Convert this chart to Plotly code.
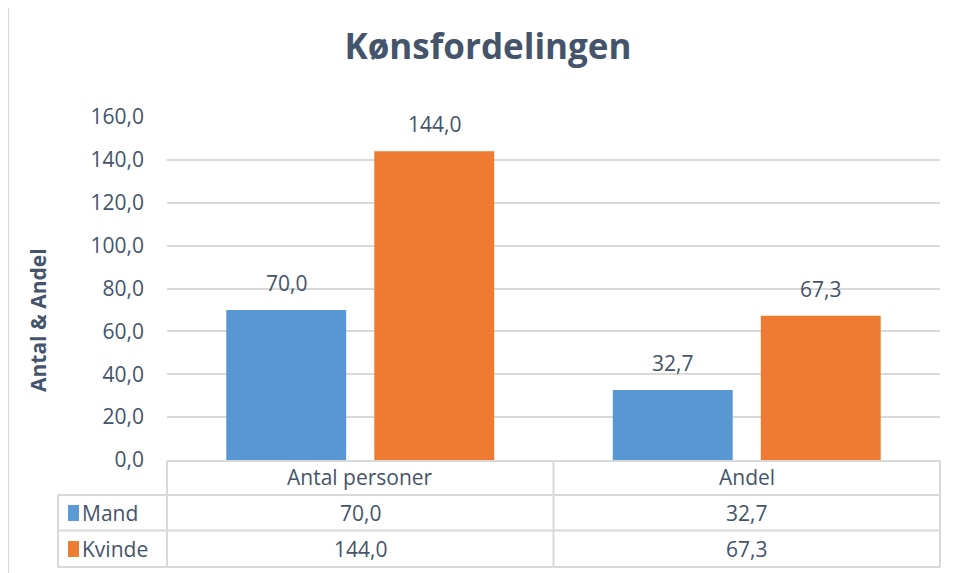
import plotly.graph_objects as go

# data
categories = ["Antal personer", "Andel"]
series_names = ["Mand", "Kvinde"]
mand = [70.0, 32.7]
kvinde = [144.0, 67.3]
y_ticks = [0, 20, 40, 60, 80, 100, 120, 140, 160]

txt = "#44546a"
grid = "#d9d9d9"
font = "Open Sans"
bar_colors = ["#5897d3", "#ef7a31"]
key_colors = ["#5b9bd5", "#ed7d31"]

# the page puts the figure 8px in from the top-left corner
OFF = 8
W, H = 954 - OFF, 573 - OFF
L, R, T, B = 167, 940, 117, 460   # plot area, in screen pixels
bargap = 0.234


def px(x):
    return (x - L) / (R - L)


def py(y):
    return (B - y) / (B - T)


fig = go.Figure()
values = [mand, kvinde]
for name, vals, col in zip(series_names, values, bar_colors):
    fig.add_trace(go.Bar(
        x = categories,
        y = vals,
        name = name,
        marker = dict(color = col, line = dict(width = 0)),
        showlegend = False,
        hoverinfo = "skip",
    ))

lbl_font = dict(size = 21, color = txt, family = font)

# data labels above the bars
offset = (1 - bargap) / 4
annotations = []
for s, vals in enumerate(values):
    for i, v in enumerate(vals):
        annotations.append(dict(
            x = i + (offset if s else -offset), y = v, xref = "x", yref = "y",
            text = f"{v:.1f}".replace(".", ","), showarrow = False,
            xanchor = "center", yanchor = "middle",
            yshift = 27, font = lbl_font,
        ))

# data table under the plot
row_mid = [513, 549]
for i, c in enumerate(categories):
    annotations.append(dict(x = i, y = py(477), xref = "x", yref = "paper", text = c,
                            xanchor = "center", yanchor = "middle",
                            showarrow = False, font = lbl_font))
    for s, vals in enumerate(values):
        annotations.append(dict(x = i, y = py(row_mid[s]), xref = "x", yref = "paper",
                                text = f"{vals[i]:.1f}".replace(".", ","), showarrow = False,
                                xanchor = "center", yanchor = "middle", font = lbl_font))
for s, name in enumerate(series_names):
    annotations.append(dict(x = px(80), y = py(row_mid[s]), xref = "paper", yref = "paper",
                            text = name, showarrow = False, xanchor = "left", yanchor = "middle",
                            font = lbl_font))

shapes = []
line = dict(color = grid, width = 2)
for y, x0 in [(461, L), (495, 58), (530.5, 58), (567, 58)]:
    shapes.append(dict(type = "line", xref = "paper", yref = "paper",
                       x0 = px(x0), x1 = 1, y0 = py(y), y1 = py(y), line = line))
for x, y0 in [(58, 495), (L, 461), (R, 461)]:
    shapes.append(dict(type = "line", xref = "paper", yref = "paper",
                       x0 = px(x), x1 = px(x), y0 = py(y0), y1 = py(567), line = line))
shapes.append(dict(type = "line", xref = "x", yref = "paper", x0 = 0.5, x1 = 0.5,
                   y0 = py(461), y1 = py(567), line = line))
for s, col in enumerate(key_colors):
    shapes.append(dict(type = "rect", xref = "paper", yref = "paper",
                       x0 = px(68), x1 = px(79), y0 = py(row_mid[s] + 8), y1 = py(row_mid[s] - 8),
                       fillcolor = col, line = dict(width = 0)))
# chart frame
shapes.append(dict(type = "rect", xref = "paper", yref = "paper",
                   x0 = px(8.5), x1 = px(990), y0 = py(990), y1 = py(6.5),
                   line = dict(color = grid, width = 1), layer = "below"))

fig.update_layout(
    width = W,
    height = H,
    margin = dict(l = L - OFF, r = 954 - R, t = T - OFF, b = 573 - B, autoexpand = False),
    paper_bgcolor = "white",
    plot_bgcolor = "white",
    separators = ",.",
    barmode = "group",
    bargap = bargap,
    bargroupgap = 0.19,
    title = dict(text = "<b>Kønsfordelingen</b>", x = px(488), xref = "paper", xanchor = "center",
                 y = 1 - (47 - OFF) / H, yanchor = "middle",
                 font = dict(size = 35, color = txt, family = font)),
    annotations = annotations + [dict(
        x = px(38), y = py(320), xref = "paper", yref = "paper", text = "<b>Antal & Andel</b>",
        textangle = -90, showarrow = False, xanchor = "center", yanchor = "middle",
        font = dict(size = 21, color = txt, family = font))],
    shapes = shapes,
)
fig.update_xaxes(showticklabels = False, showgrid = False, showline = False, zeroline = False)
fig.update_yaxes(
    range = [0, 160],
    tickvals = y_ticks,
    tickformat = ".1f",
    tickfont = lbl_font,
    showgrid = True,
    gridcolor = grid,
    gridwidth = 2,
    zeroline = False,
    ticks = "",
    ticklabelstandoff = 22,
)

fig.write_html("out.html")
